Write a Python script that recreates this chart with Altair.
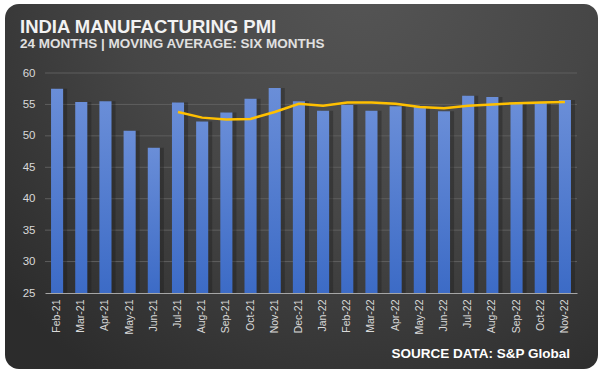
import altair as alt
import pandas as pd

months = ["Feb-21", "Mar-21", "Apr-21", "May-21", "Jun-21", "Jul-21", "Aug-21", "Sep-21",
          "Oct-21", "Nov-21", "Dec-21", "Jan-22", "Feb-22", "Mar-22", "Apr-22", "May-22",
          "Jun-22", "Jul-22", "Aug-22", "Sep-22", "Oct-22", "Nov-22"]
pmi = [57.5, 55.4, 55.5, 50.8, 48.1, 55.3, 52.3, 53.7, 55.9, 57.6, 55.5, 54.0,
       54.9, 54.0, 54.7, 54.6, 53.9, 56.4, 56.2, 55.1, 55.3, 55.7]
ma_months = months[5:]
ma_values = [53.8, 52.9, 52.6, 52.7, 53.8, 55.1, 54.8, 55.3, 55.3, 55.1, 54.6,
             54.4, 54.8, 55.0, 55.2, 55.3, 55.4]
y_ticks = [25, 30, 35, 40, 45, 50, 55, 60]
grid_values = [30, 35, 40, 45, 50, 55, 60]
title_text = "INDIA MANUFACTURING PMI"
subtitle_text = "24 MONTHS | MOVING AVERAGE: SIX MONTHS"
source_text = "SOURCE DATA: S&P Global"

FONT = "Liberation Sans"
BASE = 25

bars_df = pd.DataFrame({"month": months, "pmi": pmi})
ma_df = pd.DataFrame({"month": ma_months, "ma": ma_values})
grid_df = pd.DataFrame({"g": grid_values})

xscale = alt.Scale(domain=months, paddingInner=0, paddingOuter=0)
yscale = alt.Scale(domain=[25, 60], zero=False, nice=False)

x_axis = alt.Axis(title=None, labelAngle=-90, labelFontSize=10.5, labelFont=FONT,
                  labelColor="#d9d9d9", ticks=False, domainColor="#a6a6a6",
                  domainWidth=1, labelPadding=6, grid=False, zindex=1)
y_axis = alt.Axis(title=None, values=y_ticks, labelFontSize=11.5, labelFont=FONT,
                  labelColor="#d9d9d9", ticks=False, domain=False, grid=False,
                  labelPadding=10, labelOverlap=False, labelBound=False, zindex=1)

x_enc = alt.X("month:N", sort=months, scale=xscale, axis=x_axis)

card = alt.Chart(pd.DataFrame({"k": [0]})).mark_rect(
    cornerRadius=14,
    color=alt.Gradient(
        gradient="radial",
        stops=[alt.GradientStop(color="#555555", offset=0),
               alt.GradientStop(color="#464646", offset=0.5),
               alt.GradientStop(color="#2c2c2c", offset=1)],
        x1=0.6, y1=0.15, r1=0, x2=0.6, y2=0.15, r2=0.8),
).encode(x=alt.value(-40), x2=alt.value(553), y=alt.value(-69), y2=alt.value(296))

grid = alt.Chart(grid_df).mark_rule(color="#5e5e5e", strokeWidth=1).encode(
    y=alt.Y("g:Q", scale=yscale, axis=y_axis),
    x=alt.value(0), x2=alt.value(532))

shadow = alt.Chart(bars_df).mark_bar(
    width={"band": 0.5}, xOffset=4, color="#1a1a1a", opacity=0.35
).encode(x=x_enc, y=alt.Y("pmi:Q", scale=yscale, axis=y_axis), y2=alt.datum(BASE))

bars = alt.Chart(bars_df).mark_bar(
    width={"band": 0.5},
    color=alt.Gradient(
        gradient="linear",
        stops=[alt.GradientStop(color="#6a8ed8", offset=0),
               alt.GradientStop(color="#3c6bc6", offset=1)],
        x1=0, x2=0, y1=0, y2=1),
).encode(x=x_enc, y=alt.Y("pmi:Q", scale=yscale, axis=y_axis), y2=alt.datum(BASE))

line = alt.Chart(ma_df).mark_line(color="#ffc000", strokeWidth=2.5).encode(
    x=alt.X("month:N", sort=months, scale=xscale, axis=x_axis),
    y=alt.Y("ma:Q", scale=yscale, axis=y_axis))

source = alt.Chart(pd.DataFrame({"t": [source_text]})).mark_text(
    align="right", baseline="alphabetic", font=FONT, fontSize=13.5, fontWeight="bold",
    color="#ffffff"
).encode(text="t:N", x=alt.value(525), y=alt.value(285))

chart = alt.layer(card, grid, shadow, bars, line, source).properties(
    width=532, height=220,
    padding={"left": 45, "top": 73, "right": 25, "bottom": 84},
    autosize=alt.AutoSizeParams(type="none"),
    background="#ffffff",
    title=alt.TitleParams(
        text=title_text, subtitle=subtitle_text, anchor="start", frame="group",
        dx=-25, offset=-46, font=FONT, fontSize=18.5, fontWeight="bold", color="#f2f2f2",
        subtitleFont=FONT, subtitleFontSize=13.5, subtitleFontWeight="bold",
        subtitleColor="#e0e0e0", subtitlePadding=0),
).configure_view(stroke=None).configure_axis(labelOverlap=False)

chart.save("out.html", embed_options={"renderer": "svg", "actions": False})
